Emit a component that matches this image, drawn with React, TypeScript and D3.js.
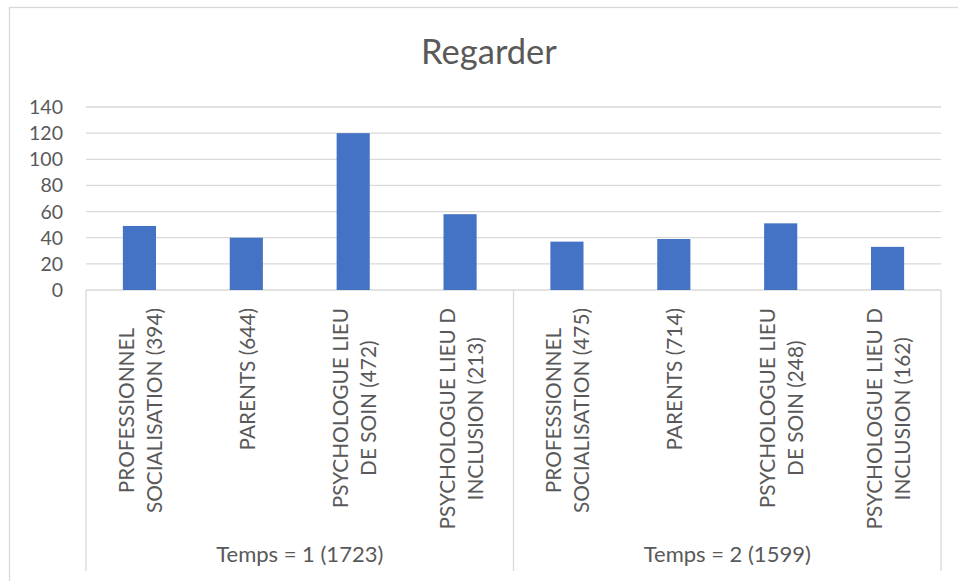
import React, { useEffect, useRef } from "react";
import * as d3 from "d3";

const title = "Regarder";
const groupLabels = ["Temps = 1 (1723)", "Temps = 2 (1599)"];
const categoryLabels = [
  "PROFESSIONNEL\nSOCIALISATION (394)",
  "PARENTS (644)",
  "PSYCHOLOGUE LIEU\nDE SOIN (472)",
  "PSYCHOLOGUE LIEU D\nINCLUSION (213)",
  "PROFESSIONNEL\nSOCIALISATION (475)",
  "PARENTS (714)",
  "PSYCHOLOGUE LIEU\nDE SOIN (248)",
  "PSYCHOLOGUE LIEU D\nINCLUSION (162)",
];
const values = [49, 40, 120, 58, 37, 39, 51, 33];
const yTicks = [0, 20, 40, 60, 80, 100, 120, 140];

const W = 958;
const H = 581;
const FONT = "Lato, 'Open Sans', sans-serif";
const TEXT = "#595959";
const GRID = "#D9D9D9";
const BAR = "#4472C4";

export default function App() {
  const ref = useRef<SVGSVGElement | null>(null);

  useEffect(() => {
    const svg = d3.select(ref.current);
    svg.selectAll("*").remove();

    const left = 86;
    const right = 941;
    const top = 107;
    const bottom = 290;
    const axisBottom = 571;

    const idx = categoryLabels.map((_, i) => i);
    const x = d3.scaleBand<number>().domain(idx).range([left, right]).padding(0);
    const y = d3.scaleLinear().domain([0, 140]).range([bottom, top]);
    const bw = x.bandwidth() * 0.31;

    // outer border
    svg.append("rect")
      .attr("x", 9.5).attr("y", 7.5)
      .attr("width", W - 9.5 + 5).attr("height", H)
      .attr("fill", "white").attr("stroke", GRID).attr("stroke-width", 1.3);

    // title
    svg.append("text")
      .attr("x", 489).attr("y", 64)
      .attr("text-anchor", "middle")
      .attr("font-family", FONT).attr("font-size", 34.5)
      .attr("fill", TEXT).text(title);

    // gridlines
    svg.append("g").selectAll("line").data(yTicks).join("line")
      .attr("x1", left).attr("x2", right)
      .attr("y1", (d) => y(d)).attr("y2", (d) => y(d))
      .attr("stroke", GRID).attr("stroke-width", 1.3);

    // y tick labels
    svg.append("g").selectAll("text").data(yTicks).join("text")
      .attr("x", 63).attr("y", (d) => y(d))
      .attr("dy", "0.36em")
      .attr("text-anchor", "end")
      .attr("font-family", FONT).attr("font-size", 19.5)
      .attr("fill", TEXT).text((d) => String(d));

    // bars
    svg.append("g").selectAll("rect").data(values).join("rect")
      .attr("x", (_, i) => (x(i) as number) + x.bandwidth() / 2 - bw / 2)
      .attr("y", (d) => y(d))
      .attr("width", bw)
      .attr("height", (d) => y(0) - y(d))
      .attr("fill", BAR);

    // category axis separators
    const seps = [0, 4, 8].map((i) => (i < 8 ? (x(i) as number) : right));
    svg.append("g").selectAll("line").data(seps).join("line")
      .attr("x1", (d) => d).attr("x2", (d) => d)
      .attr("y1", bottom).attr("y2", axisBottom)
      .attr("stroke", GRID).attr("stroke-width", 1.3);

    // category labels (rotated)
    const fs = 20.8;
    const lh = 28;
    categoryLabels.forEach((lab, i) => {
      const lines = lab.split("\n");
      const cx = (x(i) as number) + x.bandwidth() / 2;
      const g = svg.append("g");
      const texts = lines.map((ln) =>
        g.append("text")
          .attr("font-family", FONT).attr("font-size", fs)
          .attr("fill", TEXT).attr("text-anchor", "middle").text(ln)
      );
      const maxLen = d3.max(texts, (t) => (t.node() as SVGTextElement).getComputedTextLength()) || 0;
      const yc = 308 + maxLen / 2;
      texts.forEach((t, j) => {
        const bx = cx - ((lines.length - 1) / 2) * lh + j * lh + 7.5 + 1;
        t.attr("transform", `translate(${bx},${yc}) rotate(-90)`);
      });
    });

    // group labels
    svg.append("g").selectAll("text").data(groupLabels).join("text")
      .attr("x", (_, i) => (seps[i] + seps[i + 1]) / 2)
      .attr("y", 562)
      .attr("text-anchor", "middle")
      .attr("font-family", FONT).attr("font-size", 22)
      .attr("fill", TEXT).text((d) => d);
  }, []);

  return (
    <svg
      ref={ref}
      width={W}
      height={H}
      style={{ position: "absolute", left: 0, top: 0, background: "white" }}
    />
  );
}
